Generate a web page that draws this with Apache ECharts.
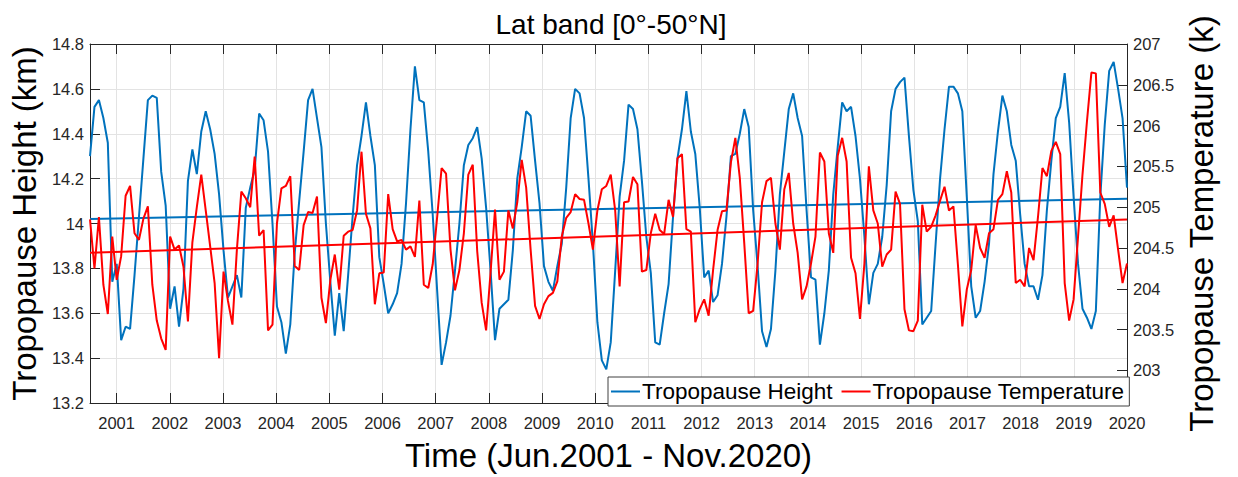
<!DOCTYPE html>
<html>
<head>
<meta charset="utf-8">
<script src="https://cdn.jsdelivr.net/npm/echarts@6/dist/echarts.min.js"></script>
<style>
html,body{margin:0;padding:0;background:#fff;}
#chart{width:1238px;height:477px;}
</style>
</head>
<body>
<div id="chart"></div>
<script>
// ---- Data ----
const startTime = 2000.5;   // left end of the time axis (first month)
const endTime = 2020;       // right end of the time axis (last month)
const yearTicks = [2001,2002,2003,2004,2005,2006,2007,2008,2009,2010,2011,2012,2013,2014,2015,2016,2017,2018,2019,2020];
const heightTicksMin = 13.2, heightTicksMax = 14.8, heightTickStep = 0.2;
const tempTicks = [203,203.5,204,204.5,205,205.5,206,206.5,207];

// Monthly tropopause height (km), Jun.2001 - Nov.2020
const heightKm = [
14.30,14.52,14.55,14.47,14.36,13.74,13.82,13.48,13.54,13.53,
13.77,14.03,14.29,14.55,14.57,14.56,14.23,14.08,13.62,13.72,
13.54,13.71,14.19,14.33,14.22,14.41,14.50,14.42,14.31,14.13,
13.88,13.67,13.72,13.77,13.67,14.07,14.16,14.24,14.49,14.46,
14.32,14.00,13.63,13.56,13.42,13.55,13.87,14.10,14.32,14.55,
14.60,14.47,14.34,14.00,13.74,13.50,13.69,13.52,13.77,14.03,
14.26,14.39,14.54,14.39,14.26,13.85,13.73,13.60,13.64,13.69,
13.82,14.09,14.42,14.70,14.55,14.54,14.32,14.04,13.70,13.37,
13.47,13.59,13.79,14.00,14.26,14.35,14.38,14.43,14.29,14.07,
13.79,13.48,13.62,13.64,13.66,13.88,14.20,14.34,14.50,14.48,
14.28,14.09,13.81,13.74,13.70,13.81,13.91,14.16,14.47,14.60,
14.58,14.47,14.20,13.91,13.56,13.39,13.35,13.47,13.79,14.12,
14.28,14.53,14.51,14.42,14.19,13.94,13.78,13.47,13.46,13.60,
13.73,14.03,14.29,14.42,14.59,14.41,14.31,14.07,13.76,13.79,
13.65,13.68,13.82,14.03,14.30,14.31,14.40,14.51,14.43,14.06,
13.81,13.52,13.45,13.53,13.79,14.13,14.32,14.51,14.58,14.47,
14.39,14.06,13.76,13.75,13.46,13.60,13.79,14.13,14.34,14.54,
14.50,14.52,14.39,14.20,13.94,13.64,13.78,13.82,13.94,14.17,
14.50,14.60,14.63,14.65,14.39,14.15,14.01,13.55,13.58,13.61,
13.91,14.20,14.42,14.61,14.61,14.58,14.50,14.12,13.72,13.58,
13.61,13.74,13.91,14.22,14.41,14.57,14.50,14.35,14.28,14.04,
13.82,13.72,13.72,13.66,13.77,14.06,14.28,14.47,14.52,14.67,
14.45,14.12,13.82,13.62,13.58,13.53,13.61,14.12,14.44,14.68,
14.72,14.60,14.47,14.16
];

// Monthly tropopause temperature (K), Jun.2001 - Nov.2020
const tempK = [
204.85,204.25,204.88,204.05,203.69,204.64,204.11,204.40,205.14,205.26,
204.68,204.60,204.86,205.01,204.05,203.61,203.39,203.25,204.64,204.48,
204.53,204.27,203.60,204.57,205.00,205.40,204.96,204.52,204.07,203.15,
204.21,203.85,203.56,204.48,205.19,205.11,205.00,205.62,204.65,204.72,
203.49,203.56,204.80,205.23,205.26,205.38,204.28,204.23,204.78,204.94,
204.93,205.13,203.89,203.58,204.11,204.42,203.99,204.65,204.70,204.72,
204.96,205.68,204.92,204.74,203.81,204.19,204.20,205.16,204.73,204.58,
204.60,204.48,204.52,204.39,205.08,204.05,204.01,204.30,204.88,205.48,
205.41,204.48,203.98,204.23,204.68,205.40,205.52,204.46,203.83,203.49,
204.20,204.97,204.11,204.21,204.96,204.74,205.06,205.58,205.24,204.48,
203.79,203.63,203.81,203.91,203.95,204.09,204.64,204.87,204.94,205.16,
205.10,205.09,204.80,204.48,204.96,205.22,205.26,205.40,204.96,204.03,
205.06,205.07,205.37,205.28,204.21,204.23,204.68,204.92,204.72,204.67,
205.09,204.88,205.60,205.65,204.73,204.70,203.59,203.75,203.87,203.67,
204.23,204.72,204.95,204.96,205.55,205.85,205.36,204.56,203.70,203.73,
204.31,205.06,205.32,205.36,204.80,204.48,205.22,205.42,204.80,204.44,
203.87,204.03,204.31,204.64,205.67,205.56,204.68,204.44,205.63,205.85,
205.56,204.38,204.19,203.63,204.31,205.50,204.96,204.80,204.27,204.42,
204.48,205.19,205.04,203.75,203.49,203.48,203.61,205.03,204.70,204.76,
204.90,205.08,205.25,204.96,205.01,204.30,203.54,203.99,204.23,204.78,
204.50,204.38,204.68,204.73,205.09,205.16,205.44,205.18,204.07,204.11,
204.03,204.50,204.35,204.88,205.48,205.38,205.69,205.80,205.65,204.07,
203.61,203.87,204.64,205.40,206.05,206.65,206.64,205.18,205.04,204.76,
204.90,204.48,204.07,204.31
];

// Linear trend lines (values at the two ends of the time axis)
const heightTrend = [14.02, 14.11];
const tempTrend = [204.44, 204.85];

// ---- Build chart ----
const n = heightKm.length;
const times = heightKm.map((_, i) => startTime + i * (endTime - startTime) / (n - 1));
const heightData = times.map((t, i) => [t, heightKm[i]]);
const tempData = times.map((t, i) => [t, tempK[i]]);
const heightTrendData = [[startTime, heightTrend[0]], [endTime, heightTrend[1]]];
const tempTrendData = [[startTime, tempTrend[0]], [endTime, tempTrend[1]]];

const FONT = '"Liberation Sans", Arial, Helvetica, sans-serif';
const AX = '#262626';
const GRID = '#e3e3e3';
const BLUE = '#0072BD';
const RED = '#FF0000';

const chart = echarts.init(document.getElementById('chart'), null, {renderer: 'svg'});
chart.setOption({
  animation: false,
  backgroundColor: '#fff',
  textStyle: {fontFamily: FONT},
  title: {
    text: 'Lat band [0°-50°N]',
    left: 606, top: 5, textAlign: 'center',
    textStyle: {fontFamily: FONT, fontSize: 28, fontWeight: 'normal', color: '#000'}
  },
  legend: {
    data: ['Tropopause Height', 'Tropopause Temperature'],
    left: 608, top: 377,
    orient: 'horizontal',
    icon: 'rect', itemWidth: 29, itemHeight: 2, itemGap: 9,
    padding: [3, 5, 3, 3],
    backgroundColor: '#fff', borderColor: '#404040', borderWidth: 1, borderRadius: 0,
    textStyle: {fontFamily: FONT, fontSize: 22.5, color: '#000', padding: [0,0,0,-3]}
  },
  grid: {left: 85, right: 111, top: 44, bottom: 68, containLabel: false},
  xAxis: [
    {
      type: 'value', min: startTime, max: endTime, position: 'bottom',
      name: 'Time (Jun.2001 - Nov.2020)', nameLocation: 'middle', nameGap: 36,
      nameTextStyle: {fontFamily: FONT, fontSize: 33, color: '#000'},
      axisLine: {show: true, onZero: false, lineStyle: {color: AX, width: 1}},
      axisTick: {show: true, inside: true, length: 10, customValues: yearTicks, lineStyle: {color: AX}},
      axisLabel: {show: true, customValues: yearTicks, formatter: v => String(v), fontFamily: FONT, fontSize: 16.5, color: AX, margin: 11},
      splitLine: {show: true, lineStyle: {color: GRID, width: 1}}
    },
    {
      type: 'value', min: startTime, max: endTime, position: 'top',
      axisLine: {show: true, onZero: false, lineStyle: {color: AX, width: 1}},
      axisTick: {show: true, inside: true, length: 10, customValues: yearTicks, lineStyle: {color: AX}},
      axisLabel: {show: false},
      splitLine: {show: false}
    }
  ],
  yAxis: [
    {
      type: 'value', min: heightTicksMin, max: heightTicksMax, interval: heightTickStep, position: 'left',
      name: 'Tropopause Height (km)', nameLocation: 'middle', nameGap: 43, nameRotate: 90,
      nameTextStyle: {fontFamily: FONT, fontSize: 33, color: '#000'},
      axisLine: {show: true, onZero: false, lineStyle: {color: AX, width: 1}},
      axisTick: {show: true, inside: true, length: 10, lineStyle: {color: AX}},
      axisLabel: {fontFamily: FONT, fontSize: 16.5, color: AX, margin: 6},
      splitLine: {show: true, lineStyle: {color: GRID, width: 1}}
    },
    {
      type: 'value', min: 202.6, max: 207, position: 'right',
      name: 'Tropopause Temperature (k)', nameLocation: 'middle', nameGap: 58, nameRotate: 90,
      nameTextStyle: {fontFamily: FONT, fontSize: 33, color: '#000'},
      axisLine: {show: true, onZero: false, lineStyle: {color: AX, width: 1}},
      axisTick: {show: true, inside: true, length: 10, customValues: tempTicks, lineStyle: {color: AX}},
      axisLabel: {customValues: tempTicks, fontFamily: FONT, fontSize: 16.5, color: AX, margin: 6},
      splitLine: {show: false}
    }
  ],
  series: [
    {
      name: 'Height trend', type: 'line', xAxisIndex: 0, yAxisIndex: 0,
      data: heightTrendData, symbol: 'none', silent: true, z: 2,
      lineStyle: {color: BLUE, width: 2}, itemStyle: {color: BLUE}
    },
    {
      name: 'Tropopause Height', type: 'line', xAxisIndex: 0, yAxisIndex: 0,
      data: heightData, symbol: 'none', z: 3,
      lineStyle: {color: BLUE, width: 2}, itemStyle: {color: BLUE}
    },
    {
      name: 'Temperature trend', type: 'line', xAxisIndex: 0, yAxisIndex: 1,
      data: tempTrendData, symbol: 'none', silent: true, z: 4,
      lineStyle: {color: RED, width: 2}, itemStyle: {color: RED}
    },
    {
      name: 'Tropopause Temperature', type: 'line', xAxisIndex: 0, yAxisIndex: 1,
      data: tempData, symbol: 'none', z: 5,
      lineStyle: {color: RED, width: 2}, itemStyle: {color: RED}
    }
  ]
});
</script>
</body>
</html>
